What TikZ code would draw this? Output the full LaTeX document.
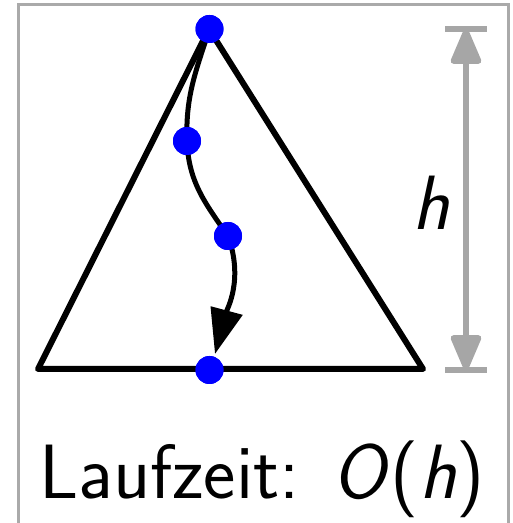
\documentclass[tikz,border=0pt]{standalone}
\usetikzlibrary{arrows.meta}
\definecolor{framegray}{HTML}{AAAAAA}
\definecolor{dimgray}{HTML}{A6A6A6}
\tikzset{
  dot/.style={circle,fill=blue,inner sep=0pt,minimum size=28pt},
  tri/.style={line width=6pt,line join=round,black},
  pathline/.style={line width=5pt,black,-{Triangle[length=45pt,width=32pt]}},
  dimline/.style={line width=6pt,dimgray,{Triangle[length=40pt,width=32pt,round]}-{Triangle[length=40pt,width=32pt,round]}},
  dimbar/.style={line width=6pt,dimgray},
  lbl/.style={font=\sffamily\fontsize{77}{84}\selectfont,inner sep=0pt}
}
\begin{document}
\begin{tikzpicture}[x=1pt,y=1pt]
\useasboundingbox (0,0) rectangle (513,523);
\draw[framegray,line width=3pt] (18,-20) -- (18,518) -- (508,518) -- (508,-20);
\coordinate (A) at (209,494);
\coordinate (L) at (38,154);
\coordinate (R) at (423,154);
\draw[tri] (A) -- (L) -- (R) -- cycle;
\node[dot] (d1) at (209.5,494) {};
\node[dot] (d2) at (187,382) {};
\node[dot] (d3) at (228,287) {};
\node[dot] (d4) at (209.5,153) {};
\coordinate (T) at (215,169);
\draw[pathline] (d1.center) to[out=-108,in=92] (d2.center) to[out=-88,in=125] (d3.center) to[out=-70,in=75] (T);
\node[dot] at (d1) {};
\node[dot] at (d2) {};
\node[dot] at (d3) {};
\node[dot] at (d4) {};
\coordinate (gt) at (466,494);
\coordinate (gb) at (466,153);
\coordinate (gtl) at (445,494);
\coordinate (gtr) at (487,494);
\coordinate (gbl) at (445,153);
\coordinate (gbr) at (487,153);
\draw[dimbar] (gtl) -- (gtr);
\draw[dimbar] (gbl) -- (gbr);
\draw[dimline] (gt) -- (gb);
\node[lbl] (h) at (431,320) {\textit{h}};
\node[lbl,anchor=base west] (t) at (39,24) {Laufzeit:\hspace{33pt}\textit{O}(\textit{h})};
\end{tikzpicture}
\end{document}
